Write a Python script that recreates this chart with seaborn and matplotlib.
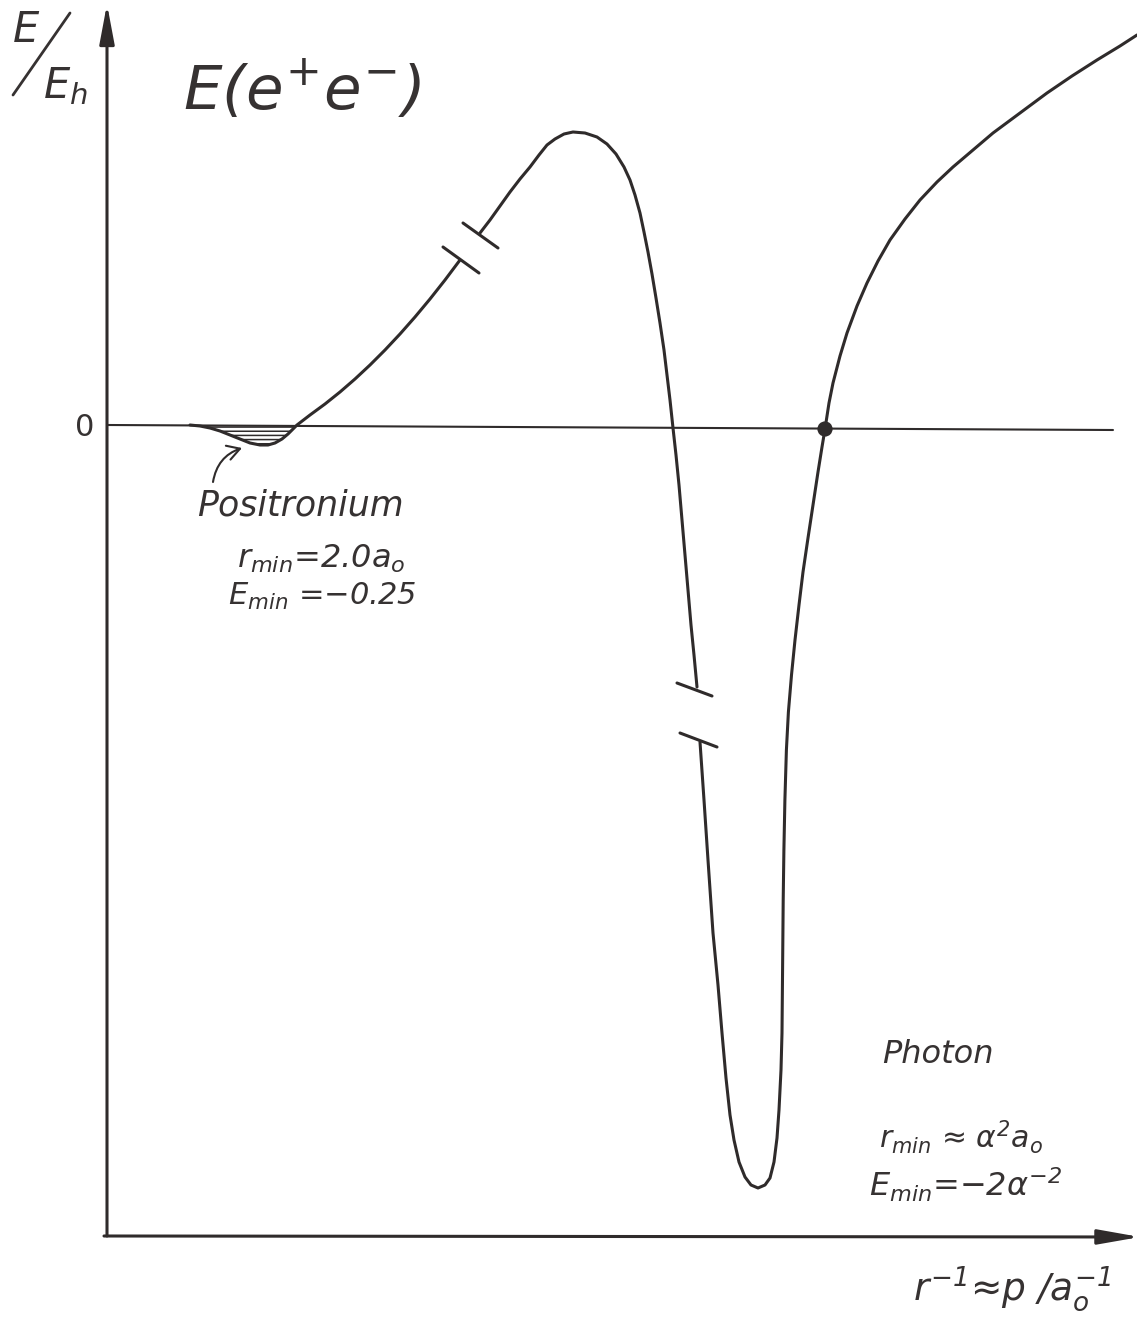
import numpy as np
import pandas as pd
import matplotlib
matplotlib.use("Agg")
import matplotlib.pyplot as plt
import seaborn as sns

# ---------------- data (x: r^-1 arbitrary units, E: arbitrary units, 0 = E/Eh = 0) -------------
# Segment A: positronium well up to the first break
seg_a_x = [83, 93, 103, 113, 123, 133, 143, 153, 161, 168, 175, 181, 186, 190, 203, 218, 233, 248, 263, 278,
           293, 308, 323, 338, 353]
seg_a_E = [3, 2, 0, -3, -7, -11, -15, -17, -17, -15, -11, -6, -1, 3, 13, 24, 36, 49, 63, 78,
           94, 111, 129, 148, 168]

# Segment B: after first break, over the maximum, down to second break
seg_b_x = [373, 383, 393, 403, 413, 423, 432, 440, 448, 457, 466, 478, 490, 500, 509, 517, 523, 528, 533, 537,
           541, 545, 549, 553, 557, 560, 563, 566, 569, 572, 575, 578, 581, 584, 587, 590]
seg_b_E = [195, 208, 222, 236, 249, 261, 273, 283, 289, 294, 296, 295, 291, 284, 274, 261, 248, 233, 215, 196,
           176, 154, 130, 105, 78, 53, 28, 0, -27, -57, -92, -127, -162, -197, -227, -259]

# Segment C: deep photon well and rising branch
seg_c_x = [593, 597, 601, 606, 611, 615, 619, 623, 627, 632, 638, 644, 651, 658, 663, 667, 670, 672, 674, 675,
           675.6, 676.2, 676.9, 677.9, 679.4, 681.4, 684.5, 688, 692, 696, 701, 706, 711, 715, 718,
           722, 726, 733, 740, 750, 760, 771, 783, 798, 813, 830, 846, 866, 886, 913, 940, 965, 990, 1013, 1030]
seg_c_E = [-314, -372, -432, -505, -557, -605, -650, -687, -712, -734, -749, -757, -760, -757, -750, -734,
           -710, -682, -642, -605, -539, -472, -422, -372, -322, -284, -247, -212, -177, -144, -110, -77, -44,
           -19, -1, 25, 45, 72, 95, 122, 145, 167, 188, 209, 228, 246, 261, 278, 295, 315, 335, 352, 368,
           382, 393]

# zero-energy line
zero_x = [1, 1006]
zero_E = [3, -2]

# axis-break tick marks (pairs of end points)
break_id = ["b1", "b1", "b2", "b2", "b3", "b3", "b4", "b4"]
break_x = [336, 372, 356, 391, 570, 605, 573, 610]
break_E = [181, 155, 205, 180, -255, -268, -305, -319]

# photon-state crossing point
dot_x = [718]
dot_E = [-1]

# labels
title_label = r"$E(e^{+}e^{-})$"
zero_label = "0"
pos_name = "Positronium"
pos_r = r"$r_{min}$=2.0$a_o$"
pos_E = r"$E_{min}$ =−0.25"
pho_name = "Photon"
pho_r = r"$r_{min}$ ≈ $\alpha^2a_o$"
pho_E = r"$E_{min}$=−2$\alpha^{-2}$"
x_label = r"$r^{-1}$≈$p$ /$a_o^{-1}$"

# ---------------- styling -------------
sns.set_theme(style="white")
plt.rcParams["font.family"] = ["DejaVu Sans"]
plt.rcParams["mathtext.fontset"] = "custom"
plt.rcParams["mathtext.rm"] = "DejaVu Sans:italic"
plt.rcParams["mathtext.it"] = "DejaVu Sans:italic"
plt.rcParams["mathtext.sf"] = "DejaVu Sans:italic"
plt.rcParams["mathtext.bf"] = "DejaVu Sans:italic:bold"
plt.rcParams["hatch.linewidth"] = 1.1

INK = "#2f2b2b"
TXT = "#363232"

fig = plt.figure(figsize=(11.37, 13.19), dpi=100)
ax = fig.add_axes([0, 0, 1, 1])
ax.set_xlim(-107, 1030)
ax.set_ylim(-891, 428)
ax.axis("off")

curve = pd.DataFrame({
    "x": seg_a_x + seg_b_x + seg_c_x,
    "E": seg_a_E + seg_b_E + seg_c_E,
    "seg": ["A"] * len(seg_a_x) + ["B"] * len(seg_b_x) + ["C"] * len(seg_c_x),
})
sns.lineplot(data=curve, x="x", y="E", units="seg", estimator=None, sort=False,
             color=INK, lw=2.2, ax=ax, legend=False, solid_joinstyle="round", solid_capstyle="round")

sns.lineplot(x=zero_x, y=zero_E, color=INK, lw=1.5, ax=ax, legend=False)

breaks = pd.DataFrame({"x": break_x, "E": break_E, "id": break_id})
sns.lineplot(data=breaks, x="x", y="E", units="id", estimator=None, sort=False,
             color=INK, lw=2.2, ax=ax, legend=False)

sns.scatterplot(x=dot_x, y=dot_E, s=120, color=INK, edgecolor="none", ax=ax, zorder=5, legend=False)

# hatched positronium well
well_x = np.array([v for v in seg_a_x if v <= 190])
well_E = np.array(seg_a_E[:len(well_x)])
well_top = np.interp(well_x, zero_x, zero_E)
ax.fill_between(well_x, well_E, well_top, facecolor="none", edgecolor=INK, hatch="----", linewidth=0)

# axes with arrows
ax.annotate("", xy=(0, 424), xytext=(0, -808), annotation_clip=False,
            arrowprops=dict(arrowstyle="-|>,head_length=1.6,head_width=0.3", mutation_scale=15,
                            lw=2.2, color=INK, shrinkA=0, shrinkB=0))
ax.annotate("", xy=(1033, -809), xytext=(-3, -808), annotation_clip=False,
            arrowprops=dict(arrowstyle="-|>,head_length=1.7,head_width=0.3", mutation_scale=15,
                            lw=2.2, color=INK, shrinkA=0, shrinkB=0))

# y-axis label E/Eh
ax.text(-81, 398, "E", fontsize=30, style="italic", color=TXT, ha="center", va="center")
ax.plot([-94, -37], [333, 415], color=TXT, lw=2.0)
ax.text(-64, 342, r"$E_h$", fontsize=30, color=TXT, ha="left", va="center")

ax.text(76, 337, title_label, fontsize=44, color=TXT, ha="left", va="center")
ax.text(-22, 0, zero_label, fontsize=22, color=TXT, ha="center", va="center")

# positronium annotation
ax.annotate("", xy=(135, -20), xytext=(106, -54),
            arrowprops=dict(arrowstyle="->,head_length=0.6,head_width=0.35", mutation_scale=15,
                            connectionstyle="arc3,rad=-0.3", lw=1.5, color=INK, shrinkA=0, shrinkB=0))
ax.text(90, -87, pos_name, fontsize=25, style="italic", color=TXT, ha="left", va="baseline")
ax.text(130, -140, pos_r, fontsize=23, style="italic", color=TXT, ha="left", va="baseline")
ax.text(121, -177, pos_E, fontsize=22, style="italic", color=TXT, ha="left", va="baseline")

# photon annotation
ax.text(775, -635, pho_name, fontsize=23, style="italic", color=TXT, ha="left", va="baseline")
ax.text(772, -720, pho_r, fontsize=21.5, style="italic", color=TXT, ha="left", va="baseline")
ax.text(762, -769, pho_E, fontsize=23, style="italic", color=TXT, ha="left", va="baseline")

ax.text(806, -872, x_label, fontsize=27, style="italic", color=TXT, ha="left", va="baseline")

fig.savefig("out.png", dpi=100, facecolor="white")
